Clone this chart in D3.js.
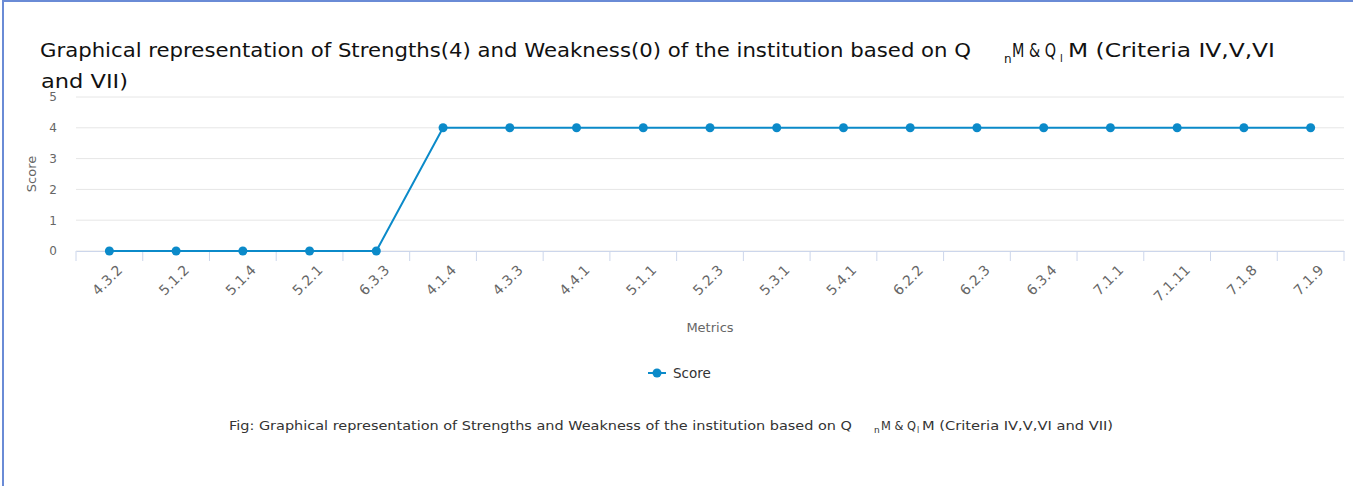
<!DOCTYPE html>
<html>
<head>
<meta charset="utf-8">
<script src="https://cdn.jsdelivr.net/npm/d3@7"></script>
<style>
  body { margin: 0; background: #fff; }
  #frame { position: absolute; left: 0; top: 0; width: 1351px; height: 486px; box-sizing: border-box;
           border-left: 2px solid #6a8bd6; border-top: 2px solid #6a8bd6; margin-left: 2px; }
  svg { position: absolute; left: 0; top: 0; font-family: "DejaVu Sans", sans-serif; }
</style>
</head>
<body>
<div id="frame"></div>
<svg id="chart" width="1353" height="486"></svg>
<script>
// data
const metrics = ["4.3.2", "5.1.2", "5.1.4", "5.2.1", "6.3.3", "4.1.4", "4.3.3", "4.4.1", "5.1.1", "5.2.3",
                 "5.3.1", "5.4.1", "6.2.2", "6.2.3", "6.3.4", "7.1.1", "7.1.11", "7.1.8", "7.1.9"];
const scores = [0, 0, 0, 0, 0, 4, 4, 4, 4, 4, 4, 4, 4, 4, 4, 4, 4, 4, 4];
const yTicks = [0, 1, 2, 3, 4, 5];
const seriesName = "Score";
const lineColor = "#0b8ac9";

const svg = d3.select("#chart");
const margin = {left: 76, right: 9, top: 97, bottom: 235};
const width = 1353 - margin.left - margin.right;
const height = 486 - margin.top - margin.bottom;

const x = d3.scaleBand().domain(metrics).range([0, width]);
const y = d3.scaleLinear().domain([0, 5]).range([height, 0]);

const g = svg.append("g").attr("transform", "translate(" + margin.left + "," + margin.top + ")");

// grid
g.append("g")
    .selectAll("line")
    .data(yTicks)
    .enter()
    .append("line")
    .attr("x1", 0).attr("x2", width)
    .attr("y1", d => y(d)).attr("y2", d => y(d))
    .attr("stroke", "#e6e6e6");

// y axis labels
const yAxis = g.append("g")
    .call(d3.axisLeft(y).tickValues(yTicks).tickFormat(d3.format("d")).tickSize(0).tickPadding(19));
yAxis.select(".domain").remove();
yAxis.selectAll("text").attr("fill", "#666").style("font-size", "12px").style("font-family", "DejaVu Sans");

// x axis
const xAxis = g.append("g")
    .attr("transform", "translate(0," + height + ")")
    .call(d3.axisBottom(x).tickSize(0).tickFormat(""));
xAxis.select(".domain").attr("stroke", "#ccd6eb");
xAxis.selectAll(".tick").remove();

// tick marks on band boundaries
xAxis.selectAll(".band-tick")
    .data(metrics.concat(["end"]))
    .enter()
    .append("line")
    .attr("class", "band-tick")
    .attr("x1", (d, i) => i < metrics.length ? x(d) : width)
    .attr("x2", (d, i) => i < metrics.length ? x(d) : width)
    .attr("y1", 0).attr("y2", 10)
    .attr("stroke", "#ccd6eb");

xAxis.selectAll(".cat-label")
    .data(metrics)
    .enter()
    .append("text")
    .attr("class", "cat-label")
    .attr("transform", d => "translate(" + (x(d) + x.bandwidth() / 2 + 7) + ",13) rotate(-45)")
    .attr("text-anchor", "end")
    .attr("dy", "0.7em")
    .attr("fill", "#666")
    .style("font-size", "14px")
    .style("font-family", "DejaVu Sans")
    .text(d => d);

// line
const line = d3.line()
    .x((d, i) => x(metrics[i]) + x.bandwidth() / 2)
    .y(d => y(d));

g.append("path")
    .datum(scores)
    .attr("d", line)
    .attr("fill", "none")
    .attr("stroke", lineColor)
    .attr("stroke-width", 2);

g.selectAll(".dot")
    .data(scores)
    .enter()
    .append("circle")
    .attr("class", "dot")
    .attr("cx", (d, i) => x(metrics[i]) + x.bandwidth() / 2)
    .attr("cy", d => y(d))
    .attr("r", 4.5)
    .attr("fill", lineColor);

// axis titles
svg.append("text")
    .attr("transform", "translate(36,174) rotate(-90)")
    .attr("text-anchor", "middle")
    .attr("fill", "#666")
    .style("font-size", "13px")
    .text("Score");

svg.append("text")
    .attr("x", margin.left + width / 2)
    .attr("y", 332)
    .attr("text-anchor", "middle")
    .attr("fill", "#666")
    .style("font-size", "13px")
    .text("Metrics");

// legend
const legend = svg.append("g").attr("transform", "translate(648,373)");
legend.append("line").attr("x1", 0).attr("x2", 18).attr("stroke", lineColor).attr("stroke-width", 2);
legend.append("circle").attr("cx", 9).attr("r", 4.5).attr("fill", lineColor);
legend.append("text").attr("x", 25).attr("y", 5).attr("fill", "#333").style("font-size", "13.5px").text(seriesName);

// title and caption: each segment is fitted to the width it takes in the reference
function addSegments(sel, segs) {
    segs.forEach(s => {
        const t = sel.append("tspan").attr("x", s.x).attr("y", s.y).text(s.text);
        if (s.size) t.style("font-size", s.size);
        if (s.len) t.attr("textLength", s.len).attr("lengthAdjust", "spacingAndGlyphs");
    });
}

const title = svg.append("text").attr("fill", "#111").style("font-size", "20px");
addSegments(title, [
    {x: 40, y: 57, len: 931, text: "Graphical representation of Strengths(4) and Weakness(0) of the institution based on Q"},
    {x: 1004, y: 63, size: "12px", text: "n"},
    {x: 1012, y: 57, len: 44, text: "M & Q"},
    {x: 1060, y: 62, size: "10px", text: "l"},
    {x: 1068, y: 57, len: 207, text: "M (Criteria IV,V,VI"},
    {x: 41, y: 88, len: 87, text: "and VII)"}
]);

const cap = svg.append("text").attr("fill", "#333").style("font-size", "13px");
addSegments(cap, [
    {x: 229, y: 430, len: 623, text: "Fig: Graphical representation of Strengths and Weakness of the institution based on Q"},
    {x: 874, y: 433, size: "9px", text: "n"},
    {x: 881, y: 430, len: 35, text: "M & Q"},
    {x: 917, y: 433, size: "8px", text: "l"},
    {x: 922, y: 430, len: 191, text: "M (Criteria IV,V,VI and VII)"}
]);
</script>
</body>
</html>
